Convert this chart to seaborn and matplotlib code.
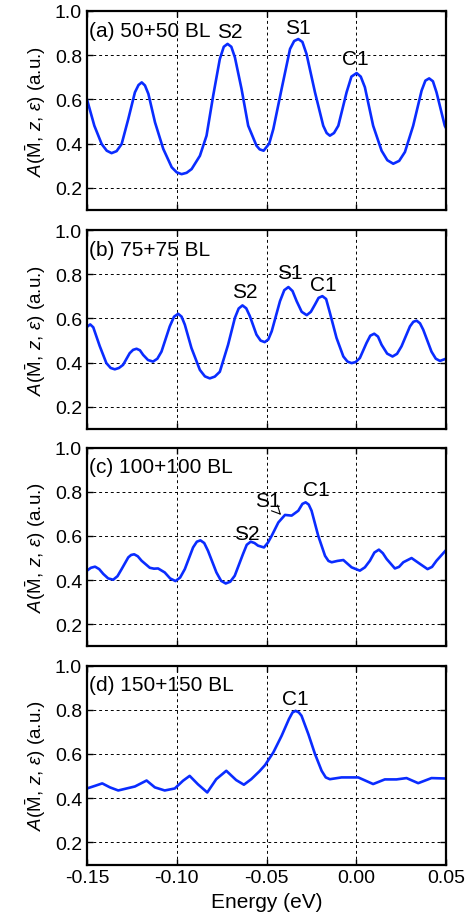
import numpy as np
import pandas as pd
import seaborn as sns
import matplotlib.pyplot as plt
from matplotlib.ticker import FormatStrFormatter

# values (energy in eV, spectral weight in a.u.)
energy_a = [-0.150, -0.1459, -0.1418, -0.139, -0.1363, -0.1335, -0.1307, -0.127, -0.1233, -0.1213,
            -0.1195, -0.1177, -0.1158, -0.1121, -0.1075, -0.1028, -0.100, -0.0973, -0.0945, -0.0917,
            -0.0871, -0.0834, -0.0797, -0.076, -0.0738, -0.0717, -0.0696, -0.0676, -0.0639, -0.0602,
            -0.0556, -0.0538, -0.0516, -0.0485, -0.0462, -0.0416, -0.0369, -0.0346, -0.0323, -0.030,
            -0.0277, -0.023, -0.0184, -0.0165, -0.0147, -0.0124, -0.010, -0.0054, -0.0027, 0.0002,
            0.0025, 0.0048, 0.0094, 0.0141, 0.0173, 0.0206, 0.0239, 0.0271, 0.0317, 0.0364,
            0.0385, 0.0406, 0.0427, 0.0447, 0.0493, 0.050]
spec_a = [0.600, 0.481, 0.398, 0.368, 0.357, 0.366, 0.398, 0.511, 0.632, 0.665,
          0.677, 0.663, 0.625, 0.496, 0.376, 0.293, 0.270, 0.262, 0.268, 0.285,
          0.345, 0.436, 0.617, 0.783, 0.838, 0.851, 0.838, 0.790, 0.647, 0.481,
          0.391, 0.374, 0.368, 0.400, 0.466, 0.647, 0.828, 0.864, 0.873, 0.860,
          0.805, 0.632, 0.481, 0.448, 0.436, 0.448, 0.481, 0.632, 0.703, 0.719,
          0.703, 0.655, 0.481, 0.368, 0.325, 0.309, 0.322, 0.362, 0.481, 0.640,
          0.685, 0.695, 0.682, 0.632, 0.481, 0.470]

energy_b = [-0.150, -0.1482, -0.1465, -0.1429, -0.1392, -0.1368, -0.1345, -0.1322, -0.1299, -0.1262,
            -0.1243, -0.1224, -0.1205, -0.1187, -0.116, -0.1132, -0.1108, -0.1085, -0.1039, -0.1015,
            -0.0992, -0.0973, -0.0955, -0.0918, -0.0871, -0.0843, -0.0816, -0.0788, -0.076, -0.0714,
            -0.0676, -0.0655, -0.0634, -0.0613, -0.0593, -0.0556, -0.0533, -0.051, -0.049, -0.0471,
            -0.0425, -0.0401, -0.0378, -0.0355, -0.0332, -0.0304, -0.0276, -0.0253, -0.023, -0.021,
            -0.0189, -0.0168, -0.0147, -0.011, -0.0072, -0.0049, -0.0026, -0.0003, 0.002, 0.0057,
            0.0078, 0.010, 0.0121, 0.0141, 0.0172, 0.0202, 0.0227, 0.0252, 0.0299, 0.0318,
            0.0336, 0.0355, 0.0373, 0.0419, 0.0443, 0.0466, 0.050]
spec_b = [0.562, 0.573, 0.560, 0.475, 0.398, 0.376, 0.370, 0.376, 0.390, 0.443,
          0.458, 0.463, 0.456, 0.435, 0.412, 0.405, 0.418, 0.450, 0.564, 0.608,
          0.621, 0.608, 0.572, 0.466, 0.367, 0.338, 0.329, 0.337, 0.359, 0.481,
          0.603, 0.645, 0.659, 0.646, 0.611, 0.527, 0.500, 0.493, 0.505, 0.542,
          0.678, 0.728, 0.742, 0.724, 0.678, 0.630, 0.615, 0.630, 0.663, 0.693,
          0.701, 0.688, 0.626, 0.512, 0.428, 0.405, 0.398, 0.403, 0.421, 0.489,
          0.522, 0.531, 0.518, 0.481, 0.441, 0.428, 0.440, 0.474, 0.564, 0.585,
          0.590, 0.578, 0.549, 0.450, 0.418, 0.408, 0.418]

energy_c = [-0.150, -0.1478, -0.1455, -0.1432, -0.1409, -0.1382, -0.1354, -0.133, -0.1307, -0.127,
            -0.1254, -0.1237, -0.1217, -0.1196, -0.115, -0.1127, -0.1104, -0.1067, -0.1037, -0.1007,
            -0.0981, -0.0955, -0.0909, -0.0888, -0.0868, -0.0847, -0.0826, -0.0779, -0.0753, -0.0727,
            -0.0702, -0.0677, -0.0631, -0.061, -0.0588, -0.0567, -0.0547, -0.0514, -0.0492, -0.0471,
            -0.0434, -0.0397, -0.036, -0.0323, -0.030, -0.0282, -0.0265, -0.0249, -0.0212, -0.0174,
            -0.0155, -0.0137, -0.0105, -0.0072, -0.0026, 0.002, 0.0048, 0.0076, 0.0101, 0.0126,
            0.0148, 0.0169, 0.0215, 0.0238, 0.0262, 0.0308, 0.0354, 0.0397, 0.0422, 0.0447,
            0.050]
spec_c = [0.443, 0.456, 0.461, 0.450, 0.428, 0.408, 0.402, 0.418, 0.450, 0.503,
          0.514, 0.517, 0.508, 0.488, 0.456, 0.452, 0.453, 0.435, 0.408, 0.396,
          0.412, 0.450, 0.548, 0.574, 0.580, 0.568, 0.533, 0.435, 0.397, 0.385,
          0.393, 0.420, 0.518, 0.560, 0.574, 0.568, 0.556, 0.548, 0.570, 0.601,
          0.661, 0.695, 0.692, 0.714, 0.745, 0.752, 0.742, 0.714, 0.601, 0.510,
          0.487, 0.481, 0.487, 0.491, 0.458, 0.443, 0.458, 0.488, 0.525, 0.538,
          0.522, 0.496, 0.453, 0.460, 0.481, 0.500, 0.474, 0.450, 0.460, 0.488,
          0.536]

energy_d = [-0.150, -0.1455, -0.1415, -0.1372, -0.1326, -0.1233, -0.1168, -0.1122, -0.1067, -0.1011,
            -0.0965, -0.0928, -0.0882, -0.083, -0.078, -0.0724, -0.0669, -0.0626, -0.0585, -0.0539,
            -0.0508, -0.0462, -0.0416, -0.0375, -0.0355, -0.0338, -0.032, -0.0305, -0.0267, -0.023,
            -0.0193, -0.017, -0.0147, -0.0082, 0.0011, 0.0094, 0.0159, 0.0224, 0.028, 0.0345,
            0.0419, 0.050]
spec_d = [0.444, 0.456, 0.467, 0.449, 0.435, 0.453, 0.480, 0.449, 0.435, 0.444,
          0.479, 0.501, 0.463, 0.426, 0.486, 0.524, 0.482, 0.461, 0.486, 0.522,
          0.550, 0.607, 0.682, 0.758, 0.788, 0.795, 0.788, 0.773, 0.690, 0.600,
          0.524, 0.494, 0.486, 0.494, 0.494, 0.464, 0.485, 0.485, 0.491, 0.468,
          0.491, 0.489]

panel_titles = ['(a) 50+50 BL', '(b) 75+75 BL', '(c) 100+100 BL', '(d) 150+150 BL']

# peak labels: (panel, text, x, y)
peak_labels = [
    (0, 'S2', -0.0703, 0.905), (0, 'S1', -0.0325, 0.927), (0, 'C1', -0.0007, 0.783),
    (1, 'S2', -0.0623, 0.724), (1, 'S1', -0.0369, 0.810), (1, 'C1', -0.0185, 0.754),
    (2, 'S2', -0.0610, 0.609), (2, 'C1', -0.0220, 0.812),
    (3, 'C1', -0.0341, 0.852),
]

sns.set_style('ticks')
plt.rcParams['font.family'] = ['Liberation Sans', 'DejaVu Sans']
plt.rcParams['mathtext.fontset'] = 'custom'
plt.rcParams['mathtext.rm'] = 'Liberation Sans'
plt.rcParams['mathtext.it'] = 'Liberation Sans:italic'
plt.rcParams['axes.unicode_minus'] = False
for key in ['text.color', 'axes.labelcolor', 'xtick.color', 'ytick.color']:
    plt.rcParams[key] = 'black'

series = [(energy_a, spec_a), (energy_b, spec_b), (energy_c, spec_c), (energy_d, spec_d)]
bottoms = [0.7707, 0.5326, 0.2962, 0.0592]

fig = plt.figure(figsize=(4.74, 9.2), dpi=100)
axes = []
for i, (x, y) in enumerate(series):
    ax = fig.add_axes([0.1835, bottoms[i], 0.7575, 0.2163])
    df = pd.DataFrame({'energy': x, 'A': y})
    sns.lineplot(data=df, x='energy', y='A', ax=ax, color='#0a2cff', lw=1.9, sort=False)
    ax.set_xlim(-0.15, 0.05)
    ax.set_ylim(0.1, 1.0)
    ax.set_xticks([-0.15, -0.10, -0.05, 0.00, 0.05])
    ax.set_yticks([0.2, 0.4, 0.6, 0.8, 1.0])
    ax.xaxis.set_major_formatter(FormatStrFormatter('%.2f'))
    ax.yaxis.set_major_formatter(FormatStrFormatter('%.1f'))
    ax.grid(True, color='black', ls=(0, (3, 3)), lw=0.7)
    ax.tick_params(direction='in', top=True, right=True, length=4, width=1, labelsize=14,
                   colors='black')
    for s in ax.spines.values():
        s.set_linewidth(1.6)
        s.set_color('black')
    ax.set_ylabel(r'$A(\bar{\mathrm{M}},\,z,\,\varepsilon)$ (a.u.)', fontsize=13.5, labelpad=5)
    ax.text(-0.1487, 0.913, panel_titles[i], fontsize=15, ha='left', va='center')
    if i < 3:
        ax.set_xlabel('')
        ax.tick_params(labelbottom=False)
    else:
        ax.set_xlabel('Energy (eV)', fontsize=15, labelpad=4)
    axes.append(ax)

for p, txt, x, y in peak_labels:
    axes[p].text(x, y, txt, fontsize=15, ha='center', va='center')

# S1 with arrow in panel (c)
axes[2].annotate('S1', xy=(-0.0419, 0.695), xytext=(-0.0493, 0.759), fontsize=15,
                 ha='center', va='center',
                 arrowprops=dict(arrowstyle='->', color='black', lw=0.8, shrinkA=7, shrinkB=0))

fig.savefig('out.png', dpi=100)
